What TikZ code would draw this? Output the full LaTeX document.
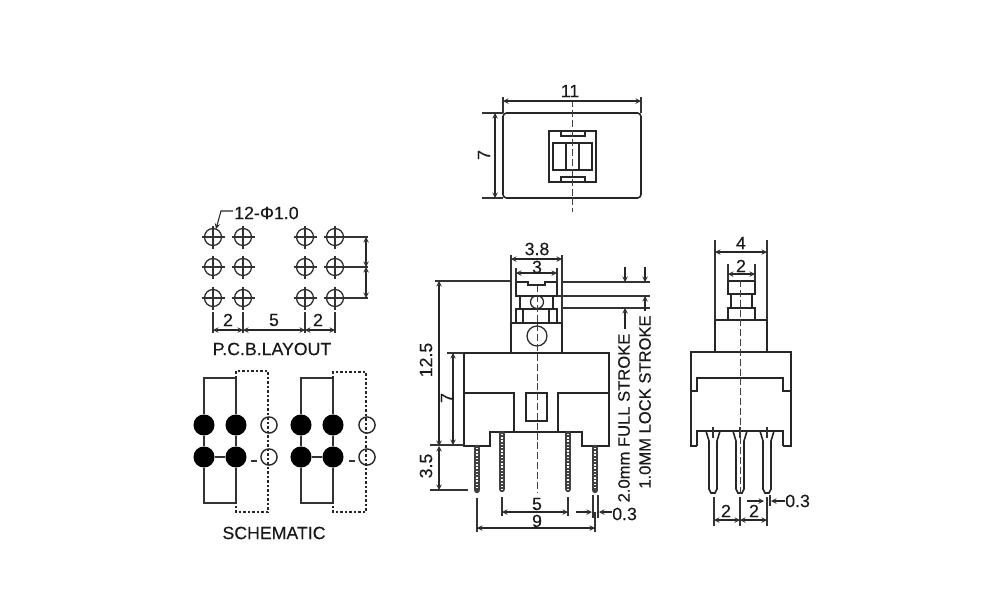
\documentclass[tikz,border=0pt]{standalone}
\usepackage{fontspec}
\setmainfont[FakeBold=0.25]{Liberation Sans}
\tikzset{
  part/.style={line width=1.15pt,black!85},
  thin part/.style={line width=0.9pt,black!85},
  dimline/.style={line width=0.75pt,black!85,<->,>=stealth},
  leader/.style={line width=0.75pt,black!85,->,>=stealth},
  extline/.style={line width=0.75pt,black!80},
  centerline/.style={line width=0.7pt,black!75,dash pattern=on 5pt off 2pt},
  wirelink/.style={line width=1.1pt,black!80},
  linklink/.style={line width=1pt,black!85,dash pattern=on 1.6pt off 1.6pt},
  label/.style={inner sep=0pt,font=\fontsize{12.6}{14}\selectfont,text=black!90},
  strokelabel/.style={inner sep=0pt,rotate=90,font=\fontsize{11.8}{14}\selectfont,text=black!90},
  dot/.style={circle,fill=black,inner sep=0pt,minimum size=15pt},
  open/.style={circle,draw=black!85,line width=1pt,inner sep=0pt,minimum size=11.5pt},
  pincore/.style={line width=4.6pt,black!75,line cap=round},
  pinthread/.style={line width=1.6pt,white,dash pattern=on 1pt off 1.3pt}
}
\begin{document}
\begin{tikzpicture}[x=0.25mm,y=-0.25mm]
  \useasboundingbox (0,0) rectangle (1000,600);

  % top view
  \draw[part,rounded corners=2.5pt] (503,113) rectangle (641,198);
  \draw[part] (549,131) rectangle (596,182);
  \draw[thin part] (561,131) rectangle (585,136);
  \draw[thin part] (561,177) rectangle (585,182);
  \draw[part] (553,143) rectangle (592,170);
  \draw[part] (566,143) -- (566,170);
  \draw[part] (579,143) -- (579,170);
  \draw[centerline] (572,100) -- (572,212);
  \draw[extline] (503,97) -- (503,113);
  \draw[extline] (641,97) -- (641,113);
  \draw[dimline] (503,101) -- (641,101);
  \node[label] (topwidth) at (570,91) {11};
  \draw[extline] (482,113) -- (503,113);
  \draw[extline] (482,198) -- (503,198);
  \draw[dimline] (495,113) -- (495,198);
  \node[label,rotate=90] (topheight) at (484,155) {7};

  % pcb layout
  \foreach \xa in {213,243,305,335}
    \foreach \ya in {237,267,298} {
      \draw[thin part] (\xa,\ya) circle (8.5);
      \draw[extline] (\xa-11.5,\ya) -- (\xa+11.5,\ya);
      \draw[extline] (\xa,\ya-11.5) -- (\xa,\ya+11.5);
    }
  \node[label,anchor=west] (holes) at (234,213) {12-Φ1.0};
  \draw[leader] (233,211) -- (221,211) -- (216,229);
  \draw[extline] (335,237) -- (368,237);
  \draw[extline] (335,267) -- (368,267);
  \draw[extline] (335,298) -- (368,298);
  \draw[dimline] (366,237) -- (366,267);
  \draw[dimline] (366,267) -- (366,298);
  \draw[extline] (213,312) -- (213,333);
  \draw[extline] (243,312) -- (243,333);
  \draw[extline] (305,312) -- (305,333);
  \draw[extline] (335,312) -- (335,333);
  \draw[dimline] (213,330) -- (243,330);
  \draw[dimline] (243,330) -- (305,330);
  \draw[dimline] (305,330) -- (335,330);
  \node[label] (pcbleft) at (228,320) {2};
  \node[label] (pcbmid) at (274,320) {5};
  \node[label] (pcbright) at (318,320) {2};
  \node[label] (pcbname) at (272,349) {P.C.B.LAYOUT};

  % schematic
  \node[dot] (a1) at (204,425) {};
  \node[dot] (a2) at (236,425) {};
  \node[open] (a3) at (269,425) {};
  \node[dot] (a4) at (204,457) {};
  \node[dot] (a5) at (236,457) {};
  \node[open] (a6) at (269,457) {};
  \node[dot] (b1) at (301,425) {};
  \node[dot] (b2) at (333,425) {};
  \node[open] (b3) at (367,425) {};
  \node[dot] (b4) at (301,457) {};
  \node[dot] (b5) at (333,457) {};
  \node[open] (b6) at (367,457) {};
  \draw[wirelink] (a1) -- (204,378) -- (236,378) -- (a2);
  \draw[wirelink] (a4) -- (204,503) -- (236,503) -- (a5);
  \draw[wirelink] (a1) -- (a4);
  \draw[wirelink] (a2) -- (a5);
  \draw[wirelink] (a4) -- (a5);
  \draw[wirelink] (b1) -- (301,378) -- (333,378) -- (b2);
  \draw[wirelink] (b4) -- (301,503) -- (333,503) -- (b5);
  \draw[wirelink] (b1) -- (b4);
  \draw[wirelink] (b2) -- (b5);
  \draw[wirelink] (b4) -- (b5);
  \draw[linklink] (236,378) -- (236,371) -- (268,371) -- (268,512) -- (236,512) -- (236,503);
  \draw[linklink] (333,378) -- (333,372) -- (366,372) -- (366,512) -- (333,512) -- (333,503);
  \draw[wirelink] (251,461) -- (257,461);
  \draw[wirelink] (349,461) -- (355,461);
  \node[label] (schname) at (274,533) {SCHEMATIC};

  % front view
  \draw[part] (516,296) -- (516,282) -- (528,282) -- (528,285) -- (545,285) -- (545,282) -- (557,282) -- (557,296) -- cycle;
  \draw[part] (520,296) -- (520,309);
  \draw[part] (553,296) -- (553,309);
  \draw[part] (516,322) -- (516,309) -- (557,309) -- (557,322);
  \draw[thin part] (523,309) -- (523,322);
  \draw[thin part] (549,309) -- (549,322);
  \draw[thin part] (537,302) circle (6.5);
  \draw[part] (511,353) -- (511,323) -- (562,323) -- (562,353);
  \draw[thin part] (537,336) circle (10);
  \draw[part] (490,432) -- (490,446) -- (464,446) -- (464,353) -- (609,353) -- (609,446) -- (582,446) -- (582,432) -- cycle;
  \draw[part] (464,393) -- (514,393) -- (514,432);
  \draw[part] (609,393) -- (558,393) -- (558,432);
  \draw[part] (526,393) rectangle (547,421);
  \draw[centerline] (537,285) -- (537,492);
  \foreach \xa/\ya/\yb in {477/448/490,502/434/489,568/434/489,595/448/490} {
    \draw[pincore] (\xa,\ya) -- (\xa,\yb);
    \draw[pinthread] (\xa,\ya) -- (\xa,\yb);
  }
  \draw[extline] (511,255) -- (511,323);
  \draw[extline] (562,255) -- (562,323);
  \draw[dimline] (511,259) -- (562,259);
  \node[label] (frontwidth) at (537,249) {3.8};
  \draw[extline] (516,268) -- (516,282);
  \draw[extline] (557,268) -- (557,282);
  \draw[dimline] (516,273) -- (557,273);
  \node[label] (frontbutton) at (537,267) {3};
  \draw[extline] (435,281) -- (511,281);
  \draw[dimline] (439,281) -- (439,446);
  \node[label,rotate=90] (frontheight) at (426,360) {12.5};
  \draw[extline] (447,353) -- (464,353);
  \draw[extline] (430,445) -- (464,445);
  \draw[dimline] (453,353) -- (453,445);
  \node[label,rotate=90] (frontbody) at (447,398) {7};
  \draw[extline] (430,490) -- (468,490);
  \draw[dimline] (439,446) -- (439,490);
  \node[label,rotate=90] (frontpin) at (426,466) {3.5};
  \draw[extline] (562,282) -- (650,282);
  \draw[extline] (557,296) -- (650,296);
  \draw[extline] (562,308) -- (650,308);
  \draw[leader] (625,267) -- (625,282);
  \draw[leader] (645,267) -- (645,282);
  \draw[leader] (625,329) -- (625,308);
  \draw[leader] (645,311) -- (645,296);
  \node[strokelabel] (fullstroke) at (624,418) {2.0mm FULL STROKE};
  \node[strokelabel] (lockstroke) at (645,402) {1.0MM LOCK STROKE};
  \draw[extline] (502,497) -- (502,516);
  \draw[extline] (568,497) -- (568,516);
  \draw[dimline] (502,512) -- (568,512);
  \node[label] (pinspan) at (537,504) {5};
  \draw[extline] (477,498) -- (477,532);
  \draw[extline] (595,512) -- (595,532);
  \draw[extline] (593,495) -- (593,518);
  \draw[dimline] (477,528) -- (595,528);
  \node[label] (pinouter) at (537,521) {9};
  \draw[extline] (598,495) -- (598,518);
  \draw[leader] (576,512) -- (592,512);
  \draw[leader] (612,512) -- (599,512);
  \node[label,anchor=west] (frontthick) at (612,514) {0.3};

  % side view
  \draw[part] (728,281) rectangle (755,294);
  \draw[part] (731,294) -- (731,308);
  \draw[part] (752,294) -- (752,308);
  \draw[part] (728,320) -- (728,308) -- (755,308) -- (755,320);
  \draw[part] (715,352) -- (715,320) -- (767,320) -- (767,352);
  \draw[part] (697,446) -- (691,446) -- (691,352) -- (791,352) -- (791,446) -- (783,446);
  \draw[part] (691,391) -- (697,391) -- (697,378) -- (783,378) -- (783,391) -- (791,391);
  \draw[part] (697,446) -- (697,431) -- (783,431) -- (783,446);
  \foreach \xa in {713,740,767} {
    \draw[part] (\xa-7,431) -- (\xa-4,441) -- (\xa-4,489) -- (\xa-2,493) -- (\xa+2,493) -- (\xa+4,489) -- (\xa+4,441) -- (\xa+7,431);
    \draw[extline] (\xa,427) -- (\xa,438);
  }
  \draw[centerline] (740,280) -- (740,497);
  \draw[extline] (715,240) -- (715,320);
  \draw[extline] (767,240) -- (767,320);
  \draw[dimline] (715,252) -- (767,252);
  \node[label] (sidewidth) at (741,243) {4};
  \draw[extline] (728,264) -- (728,281);
  \draw[extline] (755,264) -- (755,281);
  \draw[dimline] (728,274) -- (755,274);
  \node[label] (sidebutton) at (741,266) {2};
  \draw[extline] (714,497) -- (714,526);
  \draw[extline] (740,497) -- (740,526);
  \draw[extline] (767,497) -- (767,526);
  \draw[dimline] (714,520) -- (740,520);
  \draw[dimline] (740,520) -- (767,520);
  \node[label] (sideleft) at (726,511) {2};
  \node[label] (sideright) at (754,511) {2};
  \draw[extline] (770,495) -- (770,506);
  \draw[leader] (747,501) -- (764,501);
  \draw[leader] (785,501) -- (771,501);
  \node[label,anchor=west] (sidethick) at (785,501) {0.3};
\end{tikzpicture}
\end{document}
